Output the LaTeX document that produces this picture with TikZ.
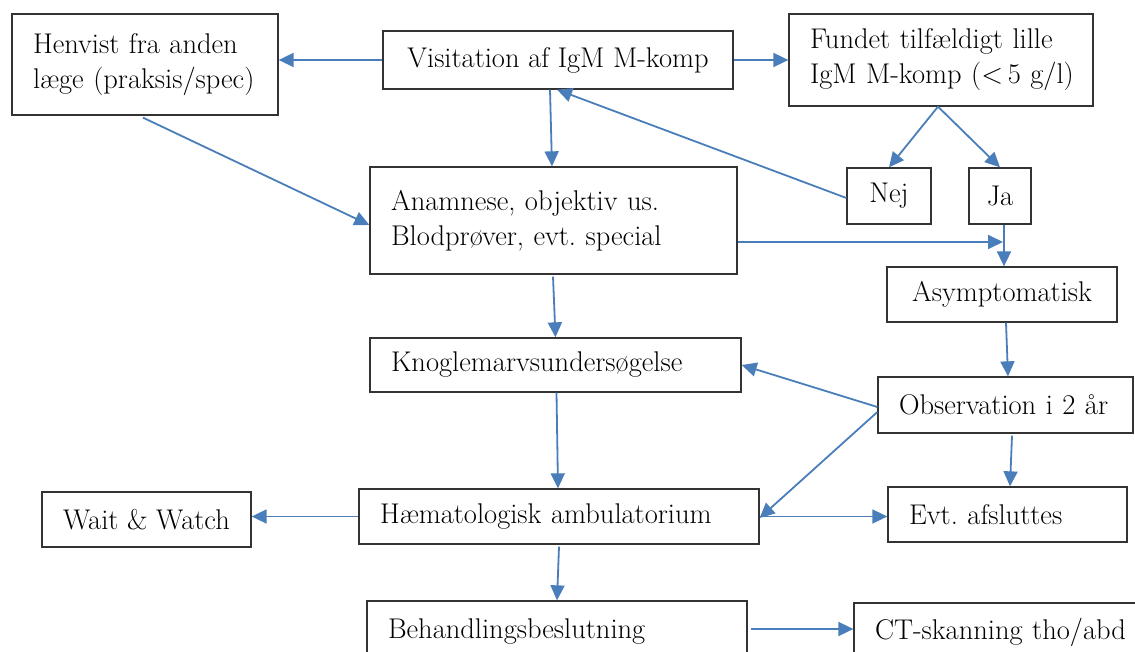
\documentclass[tikz,border=0pt]{standalone}
\usepackage{fontspec}
\usetikzlibrary{arrows.meta}
\definecolor{lnblue}{HTML}{4A7EBB}
\definecolor{bxgray}{HTML}{333333}
\frenchspacing
\begin{document}
\begin{tikzpicture}[x=1pt,y=-1pt,
  box/.style={draw=bxgray, line width=1.3pt, fill=white, inner xsep=21pt, inner ysep=0pt,
              font=\fontsize{28.5}{35}\selectfont},
  lbox/.style={box, align=left},
  cbox/.style={box, align=center},
  arr/.style={draw=lnblue, line width=1.8pt, -{Triangle[length=15pt,width=14pt]}}]
\useasboundingbox (0,0) rectangle (1135,652);
\clip (0,0) rectangle (1135,652);
\fill[white] (0,0) rectangle (1135,652);

% boxes
\node[lbox, text width=224pt, minimum height=101pt] (henvist) at (145,64.5)
  {\mbox{Henvist fra anden}\\\mbox{læge (praksis/spec)}};
\node[cbox, minimum width=350pt, minimum height=58pt] (visit) at (558,60)
  {Visitation af IgM M-komp};
\node[lbox, text width=262pt, minimum height=92pt] (fundet) at (941,60)
  {\mbox{Fundet tilfældigt lille}\\\mbox{IgM M-komp (<\,5 g/l)}};
\node[cbox, minimum width=84pt, minimum height=56pt, inner xsep=2pt] (nej) at (889,196) {Nej};
\node[cbox, minimum width=62pt, minimum height=56pt, inner xsep=2pt] (ja) at (1000,196) {Ja};
\node[lbox, text width=325pt, minimum height=107pt] (anam) at (553.5,220.5)
  {\mbox{Anamnese, objektiv us.}\\\mbox{Blodprøver, evt. special}};
\node[cbox, minimum width=230pt, minimum height=55pt] (asym) at (1002,294.5) {Asymptomatisk};
\node[lbox, text width=213pt, minimum height=56pt] (obs) at (1005.5,405) {\mbox{Observation i 2 år}};
\node[lbox, text width=329pt, minimum height=54pt] (knogle) at (555.5,365) {\mbox{Knoglemarvsundersøgelse}};
\node[lbox, text width=358pt, minimum height=55pt] (haem) at (559,516.5) {\mbox{Hæmatologisk ambulatorium}};
\node[cbox, minimum width=209pt, minimum height=55pt] (wait) at (146.5,519.5) {Wait \& Watch};
\node[lbox, text width=197pt, minimum height=55pt] (evt) at (1007.5,514.5) {\mbox{Evt. afsluttes}};
\node[lbox, text width=338pt, minimum height=62pt] (behand) at (557,632) {\mbox{Behandlingsbeslutning}};
\node[lbox, text width=249pt, minimum height=58pt] (ct) at (999.5,632) {\mbox{CT-skanning tho/abd}};

\coordinate (jmid) at (1003,242);

% connectors
\draw[arr] (visit.west) -- (visit.west -| henvist.east);
\draw[arr] (visit.east) -- (visit.east -| fundet.west);
\draw[arr] ([xshift=-8pt]visit.south) -- ([xshift=-1.5pt]anam.north);
\draw[arr] ([yshift=-2pt]nej.west) -- ([xshift=-1pt]visit.south);
\draw[arr] ([xshift=-3pt]fundet.south) -- (nej.north);
\draw[arr] ([xshift=-3pt]fundet.south) -- (ja.north);
\draw[arr] ([xshift=-2pt,yshift=-2pt]henvist.south) -- ([yshift=-4.5pt]anam.west);
\draw[arr] (jmid -| anam.east) -- (jmid);
\draw[arr] ([xshift=4pt]ja.south) -- ([xshift=2pt]asym.north);
\draw[arr] ([xshift=-0.5pt,yshift=-2pt]anam.south) -- (knogle.north);
\draw[arr] ([xshift=4pt]asym.south) -- ([xshift=2.5pt]obs.north);
\draw[arr] ([yshift=-2pt]obs.west) -- (knogle.east);
\draw[arr] ([yshift=-7pt]obs.west) -- ([yshift=-1.5pt]haem.east);
\draw[arr] ([xshift=1pt]knogle.south) -- ([xshift=-1pt]haem.north);
\draw[arr] ([xshift=6.5pt,yshift=-2pt]obs.south) -- ([xshift=2.5pt]evt.north);
\draw[arr] (haem.west) -- (haem.west -| wait.east);
\draw[arr] (haem.east) -- (haem.east -| evt.west);
\draw[arr] ([yshift=-2pt]haem.south) -- (behand.north);
\draw[arr] ([xshift=3pt,yshift=3pt]behand.east) -- ([yshift=3pt]behand.east -| ct.west);
\end{tikzpicture}
\end{document}
